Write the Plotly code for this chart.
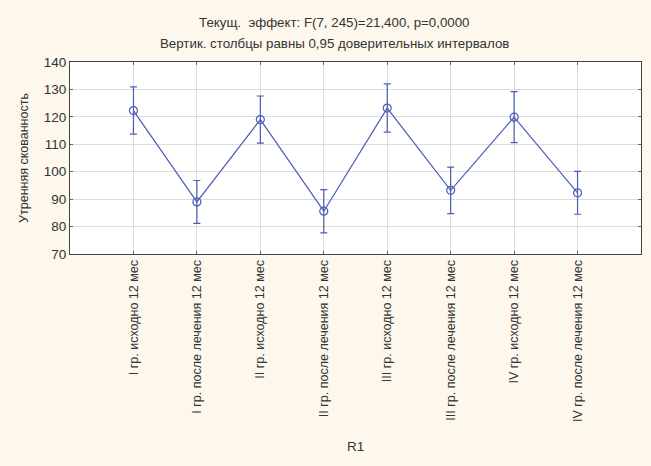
import plotly.graph_objects as go

# Groups on the x axis
categories = [
    "I гр. исходно 12 мес",
    "I гр. после лечения 12 мес",
    "II гр. исходно 12 мес",
    "II гр. после лечения 12 мес",
    "III гр. исходно 12 мес",
    "III гр. после лечения 12 мес",
    "IV гр. исходно 12 мес",
    "IV гр. после лечения 12 мес",
]
# Group means and 95% CI half-widths
means = [122.3, 89.0, 119.0, 85.6, 123.2, 93.2, 119.9, 92.3]
ci_half = [8.6, 7.8, 8.6, 7.9, 8.8, 8.5, 9.3, 7.8]

y_ticks = [70, 80, 90, 100, 110, 120, 130, 140]

x_pos = list(range(len(categories)))

BLUE = "#4a5db5"
BG = "#fdf8eb"
TXT = "#333333"
FONT = "Liberation Sans, Arial, sans-serif"

W, H = 651, 466
ML, MR, MT, MB = 70, 10, 62, 212
plot_w = W - ML - MR
plot_h = H - MT - MB
title_x = (334 - ML) / plot_w  # heading block sits a little right of the page centre

fig = go.Figure()
fig.add_trace(go.Scatter(
    x=x_pos,
    y=means,
    mode="lines+markers",
    line=dict(color=BLUE, width=1.2),
    marker=dict(symbol="circle-open", size=8, color=BLUE, line=dict(width=1.2)),
    error_y=dict(type="data", array=ci_half, visible=True,
                 color=BLUE, thickness=1.2, width=3.5),
    showlegend=False,
    hoverinfo="skip",
))

fig.update_layout(
    width=W, height=H,
    margin=dict(l=ML, r=MR, t=MT, b=MB),
    paper_bgcolor=BG,
    plot_bgcolor="white",
    font=dict(family=FONT, color=TXT, size=12),
    annotations=[
        dict(text="Текущ.  эффект: F(7, 245)=21,400, p=0,0000",
             x=title_x, xref="paper", xanchor="center",
             y=1 + (MT - 22) / plot_h, yref="paper", yanchor="middle",
             showarrow=False, font=dict(size=13.3)),
        dict(text="Вертик. столбцы равны 0,95 доверительных интервалов",
             x=title_x, xref="paper", xanchor="center",
             y=1 + (MT - 43) / plot_h, yref="paper", yanchor="middle",
             showarrow=False, font=dict(size=13.3)),
        dict(text="R1",
             x=0.5, xref="paper", xanchor="center",
             y=-(447 - (MT + plot_h)) / plot_h, yref="paper", yanchor="middle",
             showarrow=False, font=dict(size=13.5)),
    ],
)

fig.update_xaxes(
    range=[-1, len(categories)],
    tickmode="array", tickvals=x_pos, ticktext=categories,
    tickangle=-90,
    tickfont=dict(size=12.5, color=TXT),
    showgrid=True, gridcolor="#dcdcdc", gridwidth=1,
    showline=True, linecolor="#444444", linewidth=1, mirror="ticks",
    ticks="inside", ticklen=3, tickcolor="#666666",
    zeroline=False,
)
fig.update_yaxes(
    range=[70, 140],
    tickmode="array", tickvals=y_ticks,
    tickfont=dict(size=13.5, color=TXT),
    showgrid=True, gridcolor="#dcdcdc", gridwidth=1,
    showline=True, linecolor="#444444", linewidth=1, mirror="ticks",
    ticks="inside", ticklen=3, tickcolor="#666666",
    zeroline=False,
    title=dict(text="Утренняя скованность", font=dict(size=12.5, color=TXT), standoff=12),
)

fig.write_html("out.html")
